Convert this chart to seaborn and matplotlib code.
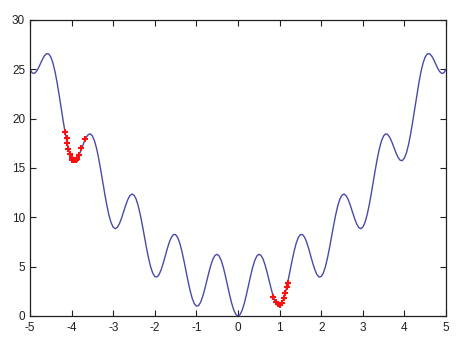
import numpy as np
import pandas as pd
import matplotlib
matplotlib.use("Agg")
import matplotlib.pyplot as plt
import seaborn as sns

x_curve = np.round(np.linspace(-5, 5, 201), 2)
y_curve = [
    25.00, 24.65, 24.58, 24.76, 25.11, 25.56, 26.02, 26.39, 26.59, 26.56,
    26.25, 25.66, 24.79, 23.69, 22.42, 21.06, 19.71, 18.46, 17.38, 16.55,
    16.00, 15.75, 15.78, 16.06, 16.51, 17.06, 17.62, 18.09, 18.39, 18.46,
    18.25, 17.76, 16.99, 15.99, 14.82, 13.56, 12.31, 11.16, 10.18, 9.45,
    9.00, 8.85, 8.98, 9.36, 9.91, 10.56, 11.22, 11.79, 12.19, 12.36,
    12.25, 11.86, 11.19, 10.29, 9.22, 8.06, 6.91, 5.86, 4.98, 4.35,
    4.00, 3.95, 4.18, 4.66, 5.31, 6.06, 6.82, 7.49, 7.99, 8.26,
    8.25, 7.96, 7.39, 6.59, 5.62, 4.56, 3.51, 2.56, 1.78, 1.25,
    1.00, 1.05, 1.38, 1.96, 2.71, 3.56, 4.42, 5.19, 5.79, 6.16,
    6.25, 6.06, 5.59, 4.89, 4.02, 3.06, 2.11, 1.26, 0.58, 0.15,
    0.00,
    0.15, 0.58, 1.26, 2.11, 3.06, 4.02, 4.89, 5.59, 6.06, 6.25,
    6.16, 5.79, 5.19, 4.42, 3.56, 2.71, 1.96, 1.38, 1.05, 1.00,
    1.25, 1.78, 2.56, 3.51, 4.56, 5.62, 6.59, 7.39, 7.96, 8.25,
    8.26, 7.99, 7.49, 6.82, 6.06, 5.31, 4.66, 4.18, 3.95, 4.00,
    4.35, 4.98, 5.86, 6.91, 8.06, 9.22, 10.29, 11.19, 11.86, 12.25,
    12.36, 12.19, 11.79, 11.22, 10.56, 9.91, 9.36, 8.98, 8.85, 9.00,
    9.45, 10.18, 11.16, 12.31, 13.56, 14.82, 15.99, 16.99, 17.76, 18.25,
    18.46, 18.39, 18.09, 17.62, 17.06, 16.51, 16.06, 15.78, 15.75, 16.00,
    16.55, 17.38, 18.46, 19.71, 21.06, 22.42, 23.69, 24.79, 25.66, 26.25,
    26.56, 26.59, 26.39, 26.02, 25.56, 25.11, 24.76, 24.58, 24.65, 25.00,
]

# red sample points
x_pts = [-4.16, -4.12, -4.10, -4.08, -4.04, -4.00, -3.98, -3.95, -3.93, -3.90,
         -3.88, -3.82, -3.77, -3.68,
         0.85, 0.91, 0.97, 1.01, 1.05, 1.11, 1.13, 1.17, 1.20]
y_pts = [18.65, 18.0, 17.5, 16.9, 16.4, 16.0, 15.86, 15.8, 15.78, 15.8,
         15.9, 16.35, 17.0, 17.9,
         1.9, 1.45, 1.19, 1.11, 1.29, 1.85, 2.3, 2.97, 3.37]

x_ticks = [-5, -4, -3, -2, -1, 0, 1, 2, 3, 4, 5]
y_ticks = [0, 5, 10, 15, 20, 25, 30]

sns.set_style("ticks")
plt.rcParams['font.family'] = ['Liberation Sans', 'DejaVu Sans']
plt.rcParams['axes.unicode_minus'] = False

fig = plt.figure(figsize=(4.69, 3.49), dpi=100)
ax = fig.add_axes([30/469, 33/349, 416/469, 296/349])

df = pd.DataFrame({"x": x_curve, "y": y_curve})
sns.lineplot(data=df, x="x", y="y", ax=ax, color="#4a4aa8", linewidth=1.0,
             estimator=None, sort=False)
pts = pd.DataFrame({"x": x_pts, "y": y_pts})
ax.plot(pts["x"], pts["y"], linestyle="none", marker="+", color="#ff1010",
        markersize=4.5, markeredgewidth=1.5)

ax.set_xlim(-5, 5)
ax.set_ylim(0, 30)
ax.set_xticks(x_ticks)
ax.set_yticks(y_ticks)
ax.set_xlabel("")
ax.set_ylabel("")
for s in ax.spines.values():
    s.set_visible(True)
    s.set_color("#202020")
    s.set_linewidth(0.9)
ax.tick_params(direction="in", length=4, width=0.8, top=True, right=True,
               labelsize=8.5, colors="#202020")
ax.tick_params(axis="x", pad=4.5)
ax.tick_params(axis="y", pad=3.5)

fig.savefig("out.png", dpi=100, facecolor="white")
